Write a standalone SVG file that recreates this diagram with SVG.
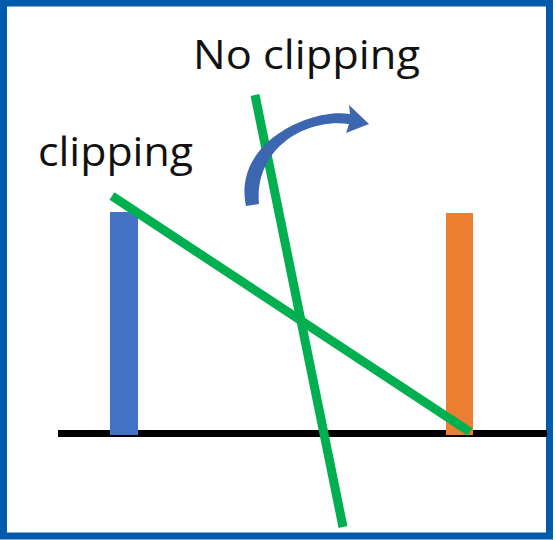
<svg xmlns="http://www.w3.org/2000/svg" width="556" height="540" viewBox="0 0 556 540">
<style>
.lbl{font-family:"Open Sans","Liberation Sans",sans-serif;font-size:41px;fill:#111}
.green{stroke:#00B050;stroke-width:9;fill:none}
</style>
<rect x="3.5" y="3" width="546" height="533" fill="#fff" stroke="#005BAA" stroke-width="7"/>
<g id="ground"><rect x="58" y="430" width="489" height="7" fill="#000"/></g>
<g id="blue-bar"><rect x="110" y="212" width="28" height="223" fill="#4472C4"/></g>
<g id="orange-bar"><rect x="446" y="213" width="27" height="222" fill="#ED7D31"/></g>
<g id="label-nc"><text class="lbl" x="193" y="69" textLength="227" lengthAdjust="spacingAndGlyphs">No clipping</text></g>
<g id="label-c"><text class="lbl" x="38" y="166" textLength="155" lengthAdjust="spacingAndGlyphs">clipping</text></g>
<g id="connectors">
<line class="green" x1="112" y1="196" x2="470" y2="432"/>
<line class="green" x1="255" y1="95" x2="343" y2="527"/>
<path d="M246,206 C238,168 262,138 300,122 C320,114 336,112 350,114 L349,105 L369,124 L346,133 L349,124 C334,122 318,124 302,131 C272,145 256,172 259,204 Z" fill="#3C66B0"/>
</g>
</svg>
